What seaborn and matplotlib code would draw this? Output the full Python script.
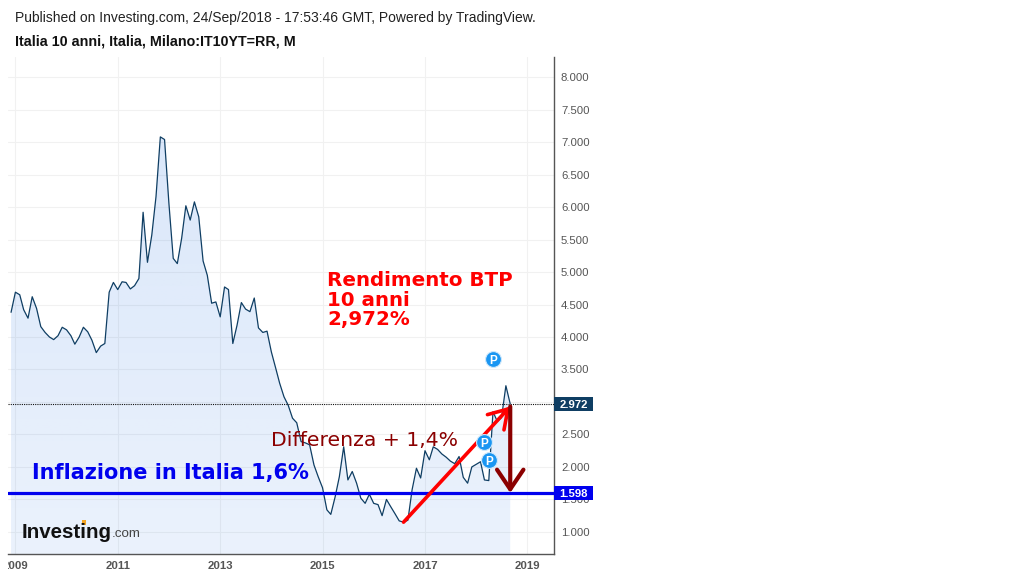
import numpy as np
import pandas as pd
import matplotlib
matplotlib.use("Agg")
import matplotlib.pyplot as plt
import matplotlib.dates as mdates
from matplotlib.patches import Rectangle
from matplotlib.transforms import Bbox, blended_transform_factory
import seaborn as sns

# ---- data -------------------------------------------------------------
months = pd.date_range("2008-12-01", periods=118, freq="MS")
yields = [
    4.38, 4.69, 4.65, 4.42, 4.29, 4.62, 4.44, 4.16, 4.07, 4.00, 3.96, 4.02,
    4.15, 4.11, 4.02, 3.89, 4.00, 4.15, 4.08, 3.95, 3.76, 3.86, 3.90, 4.69,
    4.84, 4.73, 4.85, 4.84, 4.74, 4.79, 4.90, 5.92, 5.15, 5.57, 6.16, 7.08,
    7.04, 6.06, 5.21, 5.13, 5.52, 6.02, 5.80, 6.08, 5.85, 5.17, 4.95, 4.52,
    4.54, 4.31, 4.77, 4.73, 3.90, 4.18, 4.53, 4.43, 4.39, 4.60, 4.14, 4.07,
    4.09, 3.77, 3.52, 3.29, 3.08, 2.95, 2.75, 2.68, 2.39, 2.37, 2.34, 2.03,
    1.85, 1.68, 1.34, 1.27, 1.54, 1.85, 2.31, 1.80, 1.93, 1.75, 1.52, 1.44,
    1.58, 1.44, 1.42, 1.25, 1.50, 1.39, 1.28, 1.17, 1.15, 1.18, 1.65, 1.98,
    1.83, 2.25, 2.11, 2.31, 2.27, 2.20, 2.15, 2.09, 2.05, 2.16, 1.84, 1.75,
    2.00, 2.04, 2.08, 1.80, 1.79, 2.85, 2.70, 2.76, 3.25, 2.97,
]
last_value = 2.972
inflation = 1.598
y_ticks = [1, 1.5, 2, 2.5, 3, 3.5, 4, 4.5, 5, 5.5, 6, 6.5, 7, 7.5, 8]
y_hidden_label = 3  # covered by the last-value flag in the source
x_years = [2009, 2011, 2013, 2015, 2017, 2019]
marker_dates = pd.to_datetime(["2018-05-01", "2018-03-01", "2018-04-01"])
marker_values = [3.66, 2.38, 2.10]
rise_start = (pd.Timestamp("2016-08-01"), 1.15)
rise_end = (pd.Timestamp("2018-09-01"), 2.93)
gap_start = (pd.Timestamp("2018-09-01"), 2.93)
gap_end = (pd.Timestamp("2018-09-01"), 1.60)

# ---- figure -----------------------------------------------------------
W, H = 1028, 578
sns.set_style("white")
plt.rcParams["font.family"] = ["Liberation Sans", "DejaVu Sans"]
fig = plt.figure(figsize=(W / 100, H / 100), dpi=100, facecolor="white")
L, R, T, B = 8, 554, 57, 554
ax = fig.add_axes([L / W, 1 - B / H, (R - L) / W, (B - T) / H])
ax.set_facecolor("white")


def fx(px):
    return px / W


def fy(py):
    return 1 - py / H


def year_px(px):
    # pixel column to date
    yr = 2009 + (px - 15.4) / 51.2
    return mdates.date2num(pd.Timestamp("2009-01-01")) + (yr - 2009) * 365.25


xlim = (year_px(L), year_px(R))
ylim = (0.66, 8.31)

# gradient fill under the line
poly = ax.fill_between(months, yields, ylim[0], color="none", lw=0)
grad = np.zeros((256, 1, 4))
grad[..., 0] = 30 / 255
grad[..., 1] = 110 / 255
grad[..., 2] = 225 / 255
grad[:, 0, 3] = np.linspace(0.165, 0.09, 256)
im = ax.imshow(grad, aspect="auto", extent=(xlim[0], xlim[1], ylim[0], 7.2),
               origin="upper", zorder=1, interpolation="bilinear")
im.set_clip_path(poly.get_paths()[0], transform=ax.transData)

sns.lineplot(x=months, y=yields, ax=ax, color="#0f3e63", lw=0.9, zorder=3,
             errorbar=None)
ax.set_xlabel("")
ax.set_ylabel("")
ax.set_xlim(xlim)
ax.set_ylim(ylim)

# axes styling
for s in ("left", "top"):
    ax.spines[s].set_visible(False)
for s in ("right", "bottom"):
    ax.spines[s].set_color("#555555")
    ax.spines[s].set_linewidth(1.0)
ax.yaxis.tick_right()
ax.set_yticks(y_ticks)
ax.set_yticklabels(["" if v == y_hidden_label else f"{v:.3f}" for v in y_ticks])
ax.set_xticks([pd.Timestamp(f"{y}-01-01") for y in x_years])
ax.set_xticklabels([str(y) for y in x_years])
ax.tick_params(axis="y", length=0, labelcolor="#555555", labelsize=8.2, pad=5,
               right=False, left=False)
ax.tick_params(axis="x", length=0, labelcolor="#555555", labelsize=8.2, pad=5)
for lab in ax.get_xticklabels():
    lab.set_fontweight("bold")
ax.grid(True, color="#f1f1f1", lw=0.8, zorder=0)
ax.set_axisbelow(True)

# clip the first year label at the plot's left edge, as in the source
clip = Bbox.from_extents(L, 0, W, 40)
ax.get_xticklabels()[0].set_clip_box(clip)
ax.get_xticklabels()[0].set_clip_on(True)

# level lines
ax.axhline(last_value, color="#111111", lw=0.8, ls=(0, (1, 1)), zorder=4)
ax.axhline(inflation, color="#0000ee", lw=2.3, zorder=4)

# value flags on the axis
tr = blended_transform_factory(ax.transAxes, ax.transData)
for val, col in ((last_value, "#0f3e63"), (inflation, "#0000ee")):
    ax.add_patch(Rectangle((1.0, val - 0.112), 39 / (R - L), 0.224, transform=tr,
                           facecolor=col, edgecolor="none", clip_on=False, zorder=6))
    ax.text(1.0 + 19.5 / (R - L), val, f"{val:.3f}", transform=tr, color="white",
            fontsize=8.2, fontweight="bold", ha="center", va="center_baseline",
            clip_on=False, zorder=7)

# red arrows
ax.annotate("", xy=rise_end, xytext=rise_start, zorder=8,
            arrowprops=dict(arrowstyle="->,head_length=0.72,head_width=0.45", color="#ff0000",
                            lw=2.6, mutation_scale=18, shrinkA=0, shrinkB=0))
ax.annotate("", xy=gap_end, xytext=gap_start, zorder=8,
            arrowprops=dict(arrowstyle="->,head_length=0.74,head_width=0.5", color="#8b0000",
                            lw=3.0, mutation_scale=19, shrinkA=0, shrinkB=0))

# publication markers
ax.scatter(marker_dates, marker_values, s=130, color="#1a96f2", edgecolor="#cfe8fb",
           linewidth=0.8, zorder=9)
for d, v in zip(marker_dates, marker_values):
    ax.text(d, v, "P", color="white", fontsize=8.5, fontweight="bold", ha="center",
            va="center_baseline", zorder=10)

# headings
fig.text(fx(15), fy(18), "Published on Investing.com, 24/Sep/2018 - 17:53:46 GMT, Powered by TradingView.",
         fontsize=10.04, color="#222222", va="center")
fig.text(fx(15), fy(41), "Italia 10 anni, Italia, Milano:IT10YT=RR, M",
         fontsize=10.26, fontweight="bold", color="#111111", va="center")

# drawn captions
for py, line in ((280.5, "Rendimento BTP"), (300.5, "10 anni"), (319.5, "2,972%")):
    fig.text(fx(327), fy(py), line, color="#ff0000", fontsize=14.3,
             fontweight="bold", family="DejaVu Sans", va="center", zorder=12)
fig.text(fx(271), fy(441), "Differenza + 1,4%", color="#8b0000", fontsize=14.7,
         family="DejaVu Sans", va="center", zorder=12)
fig.text(fx(32), fy(473), "Inflazione in Italia 1,6%", color="#0000ee", fontsize=15,
         fontweight="bold", family="DejaVu Sans", va="center", zorder=12)

# logo
fig.text(fx(22), fy(532), "Investing", color="#111111", fontsize=14.8, fontweight="bold",
         family="Liberation Sans", va="center", zorder=12)
fig.text(fx(112), fy(534), ".com", color="#444444", fontsize=9.6,
         family="Liberation Sans", va="center", zorder=12)
fig.patches.append(Rectangle((fx(81.5), fy(525)), 4 / W, 5 / H, transform=fig.transFigure,
                             facecolor="#f5a623", edgecolor="none", figure=fig))

fig.savefig("out.png", dpi=100, facecolor="white")
